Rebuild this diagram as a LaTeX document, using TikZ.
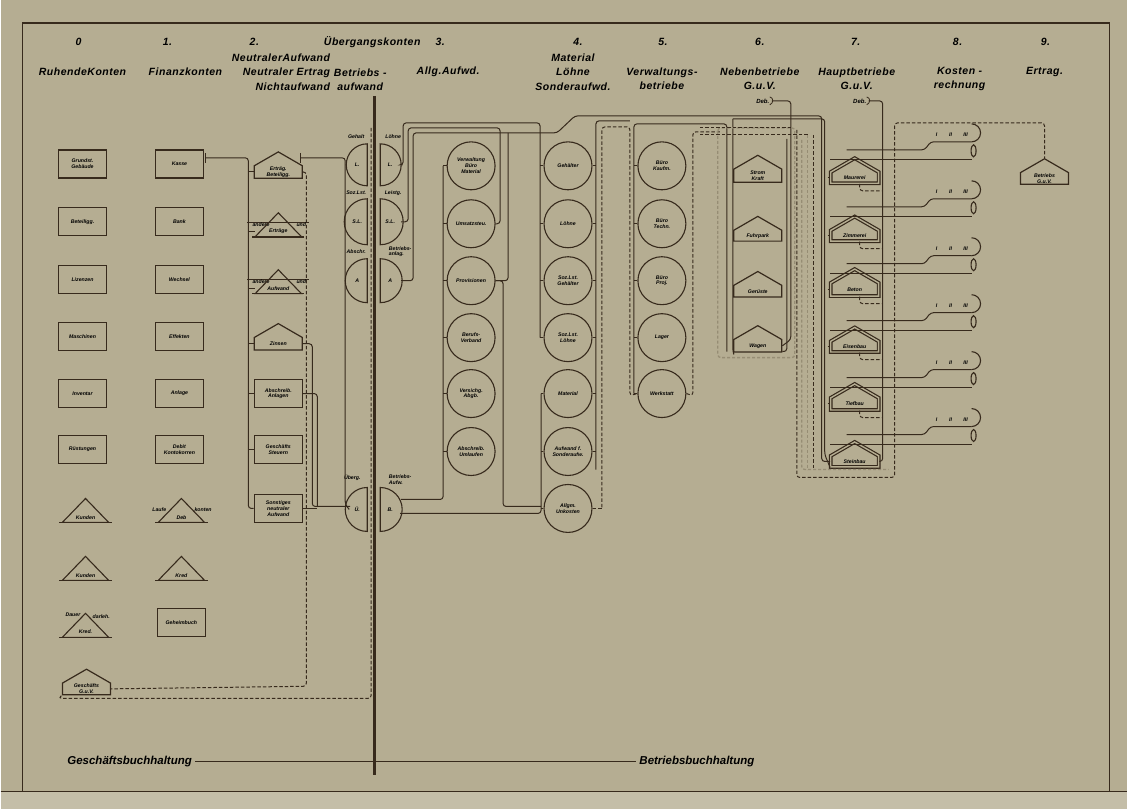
\documentclass[tikz,border=0pt]{standalone}
\usepackage{fontspec}
\setmainfont{Liberation Sans}
\newfontfamily\handschrift[LetterSpace=5]{Liberation Sans}
\usetikzlibrary{shapes.symbols}
\definecolor{papier}{RGB}{181,173,146}
\definecolor{papierhell}{RGB}{196,190,168}
\definecolor{tinte}{RGB}{55,42,28}
\definecolor{blass}{RGB}{150,141,116}
\newcommand{\kopf}{\handschrift\bfseries\itshape\fontsize{10.5}{14.5}\selectfont}
\newcommand{\klein}{\bfseries\itshape\fontsize{5.2}{5.8}\selectfont}
\newcommand{\fuss}{\bfseries\itshape\fontsize{11.5}{13}\selectfont}

\begin{document}
\begin{tikzpicture}[x=1pt,y=-1pt,
  linie/.style={draw=tinte, line width=1pt, rounded corners=3pt},
  strich/.style={linie, dash pattern=on 3.5pt off 2pt},
  geist/.style={draw=blass, line width=1.3pt, dash pattern=on 3pt off 2pt, rounded corners=3pt},
  konto/.style={draw=tinte, line width=1.4pt, minimum width=48pt, minimum height=28pt, inner sep=1pt, font=\klein, align=center},
  kreis/.style={draw=tinte, line width=1.1pt, circle, minimum size=48pt, inner sep=0pt, font=\klein, align=center},
  haus/.style={draw=tinte, line width=1.2pt, signal, signal to=north, signal from=nowhere, signal pointer angle=120, minimum width=48pt, minimum height=18pt, inner sep=1pt, font=\klein, align=center, anchor=south},
  hausdoppelt/.style={haus, double=papier, double distance=1.4pt},
  dreieck/.style={minimum width=46pt, minimum height=10pt, inner sep=0pt, font=\klein, anchor=south},
  halb/.style={font=\klein, inner sep=0pt},
  kopftext/.style={font=\kopf, inner sep=0pt, align=center},
]
\fill[papier] (0,0) rectangle (1128,810);
\fill[papierhell] (0,792) rectangle (1128,810);
\draw[tinte, line width=1.2pt] (22,792) -- (22,23) -- (1110,23) -- (1110,792);
\draw[tinte, line width=1.2pt] (0,792) -- (1128,792);

% Kopfzeile
\node[kopftext] (nr0) at (78,42) {0};
\node[kopftext] (nr1) at (167,42) {1.};
\node[kopftext] (nr2) at (254,42) {2.};
\node[kopftext] (uebergang) at (372,42) {Übergangskonten};
\node[kopftext] (nr3) at (440,42) {3.};
\node[kopftext] (nr4) at (578,42) {4.};
\node[kopftext] (nr5) at (663,42) {5.};
\node[kopftext] (nr6) at (760,42) {6.};
\node[kopftext] (nr7) at (856,42) {7.};
\node[kopftext] (nr8) at (958,42) {8.};
\node[kopftext] (nr9) at (1046,42) {9.};

\node[kopftext] (kopf0) at (82,72) {RuhendeKonten};
\node[kopftext] (kopf1) at (185,72) {Finanzkonten};
\node[kopftext, align=right, anchor=east] (kopf2) at (330,72) {NeutralerAufwand\\Neutraler Ertrag\\Nichtaufwand};
\node[kopftext] (kopfbetr) at (360,80) {Betriebs -\\aufwand};
\node[kopftext] (kopf3) at (448,72) {Allg.Aufwd.};
\node[kopftext] (kopf4) at (573,72) {Material\\Löhne\\Sonderaufwd.};
\node[kopftext] (kopf5) at (662,79) {Verwaltungs-\\betriebe};
\node[kopftext] (kopf6) at (760,79) {Nebenbetriebe\\G.u.V.};
\node[kopftext] (kopf7) at (857,79) {Hauptbetriebe\\G.u.V.};
\node[kopftext] (kopf8) at (960,79) {Kosten -\\rechnung};
\node[kopftext] (kopf9) at (1045,72) {Ertrag.};

% Spalte 0
\node[konto] (r0a) at (82,164) {Grundst.\\Gebäude};
\node[konto] (r0b) at (82,222) {Beteiligg.};
\node[konto] (r0c) at (82,280) {Lizenzen};
\node[konto] (r0d) at (82,337) {Maschinen};
\node[konto] (r0e) at (82,394) {Inventar};
\node[konto] (r0f) at (82,450) {Rüstungen};
\node[dreieck] (r0g) at (85,523) {Kunden};
\node[dreieck] (r0h) at (85,581) {Kunden};
\node[dreieck] (r0i) at (85,638) {Kred.};
\node[halb, anchor=east] (dauer) at (80,615) {Dauer};
\node[halb, anchor=west] (darleh) at (92,617) {darleh.};
\node[haus] (guv) at (86,696) {Geschäfts\\G.u.V.};

% Spalte 1
\node[konto] (f1a) at (179,164) {Kasse};
\node[konto] (f1b) at (179,222) {Bank};
\node[konto] (f1c) at (179,280) {Wechsel};
\node[konto] (f1d) at (179,337) {Effekten};
\node[konto] (f1e) at (179,394) {Anlage};
\node[konto] (f1f) at (179,450) {Debit\\Kontokorren};
\node[dreieck] (f1g) at (181,523) {Deb};
\node[halb, anchor=east] (laufe) at (166,510) {Laufe};
\node[halb, anchor=west] (konten) at (194,510) {konten};
\node[dreieck] (f1h) at (181,581) {Kred};
\node[konto] (f1i) at (181,623) {Geheimbuch};

% Spalte 2
\node[haus] (n2a) at (278,179) {Erträg.\\Beteiligg.};
\node[dreieck] (n2b) at (278,237) {Erträge};
\node[dreieck] (n2c) at (278,294) {Aufwand};
\node[haus] (n2d) at (278,351) {Zinsen};
\node[konto] (n2e) at (278,394) {Abschreib.\\Anlagen};
\node[konto] (n2f) at (278,450) {Geschäfts\\Steuern};
\node[konto] (n2g) at (278,509) {Sonstiges\\neutraler\\Aufwand};
\foreach \n in {n2b,n2c}{
  \draw[tinte, line width=0.6pt] ([xshift=-8pt,yshift=9pt]\n.west) -- ([xshift=8pt,yshift=9pt]\n.east);
}
\node[halb, anchor=south west] (aufw1) at (252,227) {andere};
\node[halb, anchor=south east] (aufw2) at (306,227) {und};
\node[halb, anchor=south west] (aufw3) at (252,284) {andere};
\node[halb, anchor=south east] (aufw4) at (306,284) {und};

\foreach \n in {r0g,r0h,r0i,f1g,f1h,n2b,n2c}{
  \draw[draw=tinte, line width=1.1pt] (\n.south west) -- ([yshift=24pt]\n.south) -- (\n.south east) -- cycle;
  \draw[draw=tinte, line width=1.6pt] ([xshift=-3pt]\n.south west) -- ([xshift=3pt]\n.south east);
}

% Uebergangskonten
\foreach \y/\r in {165/21,222/23,281/22,510/22}{
  \draw[tinte, line width=1.1pt] (367,{\y-\r}) arc[start angle=270, end angle=90, radius=\r] -- cycle;
  \draw[tinte, line width=1.1pt] (380,{\y-\r}) arc[start angle=270, end angle=450, radius=\r] -- cycle;
}
\node[halb] (ul1) at (357,165) {L.};
\node[halb] (ur1) at (390,165) {L.};
\node[halb] (ul2) at (357,222) {S.L.};
\node[halb] (ur2) at (390,222) {S.L.};
\node[halb] (ul3) at (357,281) {A};
\node[halb] (ur3) at (390,281) {A};
\node[halb] (ul4) at (357,510) {Ü.};
\node[halb] (ur4) at (390,510) {B.};
\node[halb] (tl1) at (356,137) {Gehalt};
\node[halb] (tr1) at (393,137) {Löhne};
\node[halb] (tl2) at (356,193) {Soz.Lst.};
\node[halb] (tr2) at (393,193) {Leistg.};
\node[halb] (tl3) at (356,252) {Abschr.};
\node[halb, align=left] (tr3) at (400,252) {Betriebs-\\anlag.};
\node[halb] (tl4) at (352,478) {Überg.};
\node[halb, align=left] (tr4) at (400,480) {Betriebs-\\Aufw.};

% Spalte 3
\node[kreis] (a3a) at (471,166) {Verwaltung\\Büro\\Material};
\node[kreis] (a3b) at (471,224) {Umsatzsteu.};
\node[kreis] (a3c) at (471,281) {Provisionen};
\node[kreis] (a3d) at (471,338) {Berufs-\\Verband};
\node[kreis] (a3e) at (471,394) {Versichg.\\Abgb.};
\node[kreis] (a3f) at (471,452) {Abschreib.\\Umlaufen};

% Spalte 4
\node[kreis] (m4a) at (568,166) {Gehälter};
\node[kreis] (m4b) at (568,224) {Löhne};
\node[kreis] (m4c) at (568,281) {Soz.Lst.\\Gehälter};
\node[kreis] (m4d) at (568,338) {Soz.Lst.\\Löhne};
\node[kreis] (m4e) at (568,394) {Material};
\node[kreis] (m4f) at (568,452) {Aufwand f.\\Sonderaufw.};
\node[kreis] (m4g) at (568,509) {Allgm.\\Unkosten};

% Spalte 5
\node[kreis] (v5a) at (662,166) {Büro\\Kaufm.};
\node[kreis] (v5b) at (662,224) {Büro\\Techn.};
\node[kreis] (v5c) at (662,281) {Büro\\Proj.};
\node[kreis] (v5d) at (662,338) {Lager};
\node[kreis] (v5e) at (662,394) {Werkstatt};

% Spalte 6
\node[haus] (b6a) at (758,183) {Strom\\Kraft};
\node[haus] (b6b) at (758,242) {Fuhrpark};
\node[haus] (b6c) at (758,298) {Gerüste};
\node[haus] (b6d) at (758,353) {Wagen};

% Spalte 7
\node[hausdoppelt] (h7a) at (855,184) {Maurerei};
\node[hausdoppelt] (h7b) at (855,242) {Zimmerei};
\node[hausdoppelt] (h7c) at (855,297) {Beton};
\node[hausdoppelt] (h7d) at (855,353) {Eisenbau};
\node[hausdoppelt] (h7e) at (855,411) {Tiefbau};
\node[hausdoppelt] (h7f) at (855,468) {Steinbau};

% Spalte 9
\node[haus] (ertrag) at (1045,185) {Betriebs\\G.u.V.};

% Achse Geschaefts-/Betriebsbuchhaltung
\draw[strich] (371,128) -- (371,699) -- (58,699) -- (guv.south west);
\draw[tinte, line width=2.6pt] (374,96) -- (374,776);
\node[font=\fuss, anchor=east] (geschaeft) at (195,762) {Geschäftsbuchhaltung};
\node[font=\fuss, anchor=west] (betrieb) at (636,762) {Betriebsbuchhaltung};
\draw[tinte, line width=1.1pt] (geschaeft.east) -- (betrieb.west);

% Leitungen Spalte 2
\coordinate (b2) at (248,158);
\draw[linie] (205,153) -- (205,163);
\draw[linie] (205,158) -- (b2) -- (248,509) -- (n2g.west);
\foreach \n in {n2a,n2b,n2c,n2d,n2e,n2f}{
  \draw[linie] (\n.west -| b2) -- (\n.west);
}
\draw[strich] (n2a.east) -| (306,687) -- (guv.east);
\draw[linie] (n2d.east) -| (312,507) -- (350,507);
\draw[linie] (n2e.east) -| (317,507);
\draw[linie] (n2g.east) -- (317,509);

% Leitungen Uebergang
\draw[linie] (300,153) -- (300,163);
\draw[linie] (300,158) -- (345,158) -- (345,505) -- (349,510);

% Spalte 3 links
\coordinate (b3) at (443,166);
\draw[linie] (401,500) -- (443,500) -- (b3);
\foreach \n in {a3a,a3b,a3c,a3d,a3e,a3f}{
  \draw[linie] (\n.west -| b3) -- (\n.west);
}
% Spalte 4 links
\coordinate (b4) at (540,123);
\draw[linie] (ur1.east) ++(10,0) -- (403,165) -- (403,123) -- (b4) -- (540,338);
\foreach \n in {m4a,m4b,m4c,m4d}{
  \draw[linie] (\n.west -| b4) -- (\n.west);
}
\coordinate (b4u) at (541,514);
\draw[linie] (400,514) -- (b4u) -- (541,394);
\foreach \n in {m4e,m4f,m4g}{
  \draw[linie] (\n.west -| b4u) -- (\n.west);
}
\draw[linie] (a3c.east) -| (503,507) -- (541,507);
\draw[linie] (401,222) -- (408,222) -- (408,128) -- (500,128) |- (a3b.east);
\draw[linie] (401,281) -- (413,281) -- (413,133) -- (557,133) -- (575,116) -- (822,116) -- (822,462) -- (h7f.west);
\draw[linie] (508,133) |- (a3c.east);

% Spalte 4 rechts / Spalte 5
\coordinate (b4r) at (596,121);
\draw[linie] (596,470) -- (b4r) -- (630,121);
\foreach \n in {m4a,m4b,m4c,m4d,m4e,m4f}{
  \draw[linie] (\n.east -| b4r) -- (\n.east);
}
\coordinate (b5) at (634,124);
\draw[linie] (634,394) -- (b5) -- (727,124) -- (727,352);
\foreach \n in {v5a,v5b,v5c,v5d,v5e}{
  \draw[linie] (\n.west -| b5) -- (\n.west);
}
\draw[strich] (602,508) -- (602,127) -- (630,127) -- (630,396) -- (v5e.west);
\draw[strich] (v5e.east) -- (693,396) -- (693,132) -- (720,132);
\draw[strich] (m4g.east) -- (602,509);

% Spalte 6
\coordinate (b6) at (733,119);
\draw[linie] (b6) -- (825,119) -- (825,455) -- (h7f.south west);
\draw[linie] (733,119) -- (733,352) -- (b6d.south west);
\foreach \n in {b6a,b6b,b6c}{
  \draw[linie] (\n.west -| b6) -- (\n.west);
}
\draw[linie] (787,139) -- (787,352) -- (b6d.south east);
\node[halb, font=\bfseries\itshape\fontsize{6}{7}\selectfont] (deb6) at (763,101) {Deb.};
\draw[tinte, line width=0.8pt] (770,97) .. controls (774,98) and (774,103) .. (770,105);
\draw[linie] (772,101) -- (791,101) -- (791,340) -- (b6d.east);
\draw[geist] (718,128) -- (718,358) -- (795,358) -- (795,128) -- cycle;
\draw[strich] (700,128) -- (792,128);
\draw[geist] (808,135) -- (808,470);
\draw[strich] (814,135) -- (814,470);
\draw[strich] (808,135) -- (700,135);

% Spalte 7
\coordinate (b7) at (828,184);
\foreach \n in {h7a,h7b,h7c,h7d,h7e}{
  \draw[linie] (\n.west -| b7) -- (\n.west);
  \draw[strich] ([xshift=5pt]\n.south) -- ++(0,7) -- ++(22,0);
}
\node[halb, font=\bfseries\itshape\fontsize{6}{7}\selectfont] (deb7) at (860,101) {Deb.};
\draw[tinte, line width=0.8pt] (867,97) .. controls (871,98) and (871,103) .. (867,105);
\draw[linie] (869,101) -- (883,101) -- (883,462) -- (h7f.east);
\draw[strich] (797,130) -- (797,478) -- (895,478) -- (895,123) -- (1045,123) -- (ertrag.north);
\draw[geist] (802,140) -- (802,470) -- (889,470);

% Kostenrechnung
\foreach \n/\y in {h7a/160,h7b/217,h7c/274,h7d/331,h7e/388,h7f/445}{
  \draw[linie, rounded corners=0pt] (\n.west |- 0,\y) -- (972,\y);
  \draw[linie] ([xshift=-8pt]\n.north |- 0,{\y-10}) -- (925,{\y-10}) -- (931,{\y-18}) -- (972,{\y-18});
  \draw[tinte, line width=1.1pt] (972,{\y-18}) arc[start angle=90, end angle=-90, radius=9] ;
  \draw[tinte, line width=1.1pt] (974,{\y-9}) ellipse[x radius=2.5, y radius=6];
  \node[halb] (roem1\n) at (937,{\y-25}) {I};
  \node[halb] (roem2\n) at (951,{\y-25}) {II};
  \node[halb] (roem3\n) at (966,{\y-25}) {III};
}
\end{tikzpicture}
\end{document}
